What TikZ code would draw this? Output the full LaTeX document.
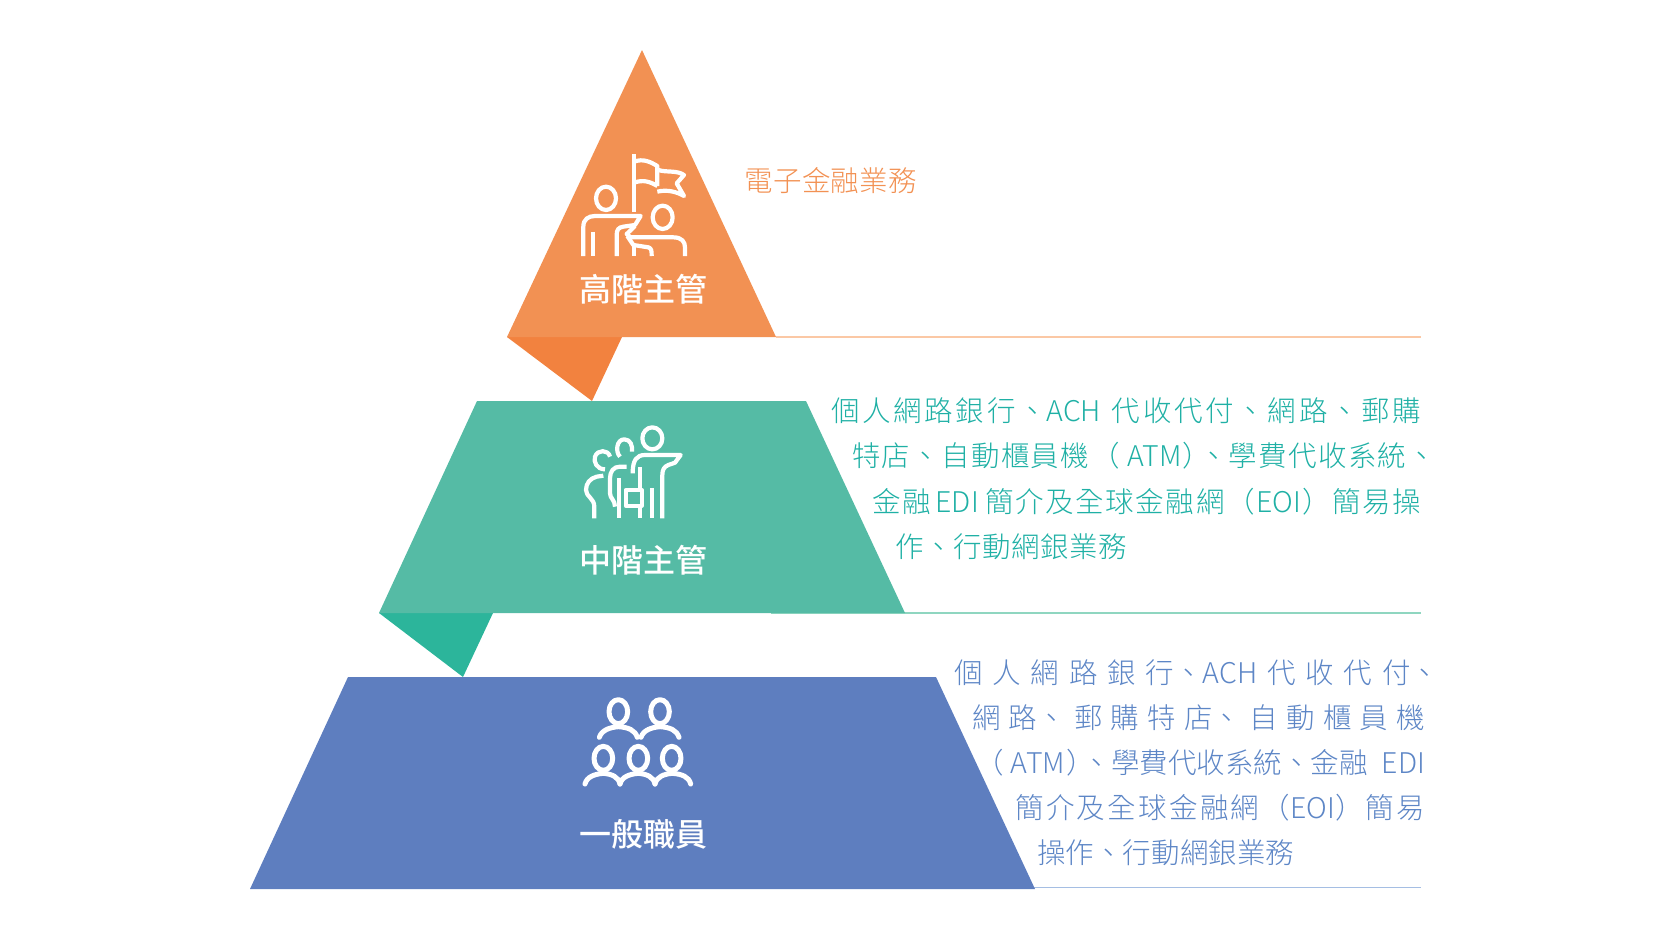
\documentclass[tikz,border=0pt]{standalone}
\usepackage{fontspec}
\newfontfamily\cjkl{Noto Sans CJK TC Light}
\newfontfamily\cjkm{Noto Sans CJK TC Medium}
\definecolor{orangeA}{HTML}{F29153}
\definecolor{orangeB}{HTML}{F2823F}
\definecolor{tealA}{HTML}{55BBA5}
\definecolor{tealB}{HTML}{2CB59B}
\definecolor{blueA}{HTML}{5E7EBF}
\definecolor{tealT}{HTML}{1FB0A5}
\definecolor{blueT}{HTML}{5D86C6}
\definecolor{ruleO}{HTML}{FBC8A5}
\definecolor{ruleT}{HTML}{8FD6C0}
\definecolor{ruleB}{HTML}{A5BEE3}
\newcommand{\fit}[2]{\hbox to #1pt{\def~{\hskip 0pt plus 1fil\relax}#2}}
\tikzset{
  x=1pt,y=-1pt,
  tier/.style={inner sep=0pt,font=\cjkm\fontsize{32}{32}\selectfont,text=white,anchor=base},
  desc/.style={inner sep=0pt,font=\cjkl\fontsize{28.5}{30}\selectfont,anchor=base west},
  icon/.style={draw=white,line width=4.2pt,line cap=butt,line join=round,fill=none},
  iconr/.style={draw=white,line width=5pt,line cap=round,line join=round,fill=none},
  rulel/.style={line width=1.5pt}
}
\begin{document}
\begin{tikzpicture}
\useasboundingbox (0,0) rectangle (1677,946);
% rules
\coordinate (r1a) at (776,337); \coordinate (r1b) at (1421,337);
\coordinate (r2a) at (771,613); \coordinate (r2b) at (1421,613);
\coordinate (r3a) at (1030,887.5); \coordinate (r3b) at (1421,887.5);
\draw[ruleO,rulel] (r1a) -- (r1b);
\draw[ruleT,rulel] (r2a) -- (r2b);
\draw[ruleB,rulel] (r3a) -- (r3b);
% folds
\fill[orangeB] (507,337) -- (622,337) -- (592,401) -- cycle;
\fill[tealB] (379,613) -- (493,613) -- (463,677) -- cycle;
% tiers
\fill[orangeA] (642,50) -- (776,337) -- (507,337) -- cycle;
\fill[tealA] (477,401) -- (806,401) -- (905,613) -- (379,613) -- cycle;
\fill[blueA] (348,677) -- (936,677) -- (1035,889) -- (250,889) -- cycle;
% icon 1
\begin{scope}[shift={(480,130)},scale=1/3]
\draw[icon] (462,72) -- (462,245);
\draw[icon] (462,95) .. controls (490,85) and (510,95) .. (532,108) -- (532,168);
\draw[icon] (462,158) .. controls (490,148) and (510,155) .. (532,168);
\draw[icon] (535,120) .. controls (560,128) and (590,120) .. (612,135) -- (590,160) -- (612,198) .. controls (590,185) and (560,178) .. (532,185);
\draw[icon] (378,205) ellipse (30 and 35);
\draw[icon] (310,378) -- (310,290) .. controls (310,268) and (325,258) .. (345,258) -- (482,258) -- (465,285) -- (430,290) .. controls (415,292) and (410,300) .. (410,315) -- (410,378);
\draw[icon] (338,305) -- (338,378);
\draw[icon] (548,262) ellipse (30 and 35);
\draw[icon] (465,288) -- (440,312) -- (452,322) -- (580,322) .. controls (605,322) and (615,335) .. (615,352) -- (615,378);
\draw[icon] (442,318) -- (460,345) -- (505,352) .. controls (515,354) and (515,365) .. (515,378);
\draw[icon] (462,348) -- (462,378);
\end{scope}
% icon 2
\begin{scope}[shift={(560,410)},scale=1/3]
\draw[icon] (277,85) ellipse (30 and 33);
\draw[icon] (218,190) .. controls (218,150) and (230,135) .. (255,135) -- (362,135) -- (345,158) -- (325,165) .. controls (312,170) and (307,180) .. (307,195) -- (307,325);
\draw[icon] (240,172) -- (240,240);
\draw[icon] (197,240) rectangle (245,287);
\draw[icon] (240,287) -- (240,325);
\draw[icon] (275,235) -- (275,325);
\draw[icon] (178,205) -- (178,325);
\draw[icon] (180,140) .. controls (165,125) and (170,88) .. (193,88) .. controls (212,88) and (218,108) .. (216,125);
\draw[icon] (200,170) -- (180,170) .. controls (160,170) and (150,185) .. (150,205) -- (150,250) .. controls (150,265) and (165,270) .. (165,290);
\draw[icon] (135,178) .. controls (110,178) and (100,155) .. (105,140) .. controls (112,118) and (145,118) .. (150,140);
\draw[icon] (130,197) -- (110,200) .. controls (90,205) and (78,220) .. (78,240) .. controls (78,260) and (103,265) .. (103,290) -- (103,325);
\end{scope}
% icon 3
\begin{scope}[shift={(560,680)},scale=1/3]
\foreach \hx/\hy in {175/95,300/95,130/235,235/235,335/235}{
  \draw[iconr] (\hx,\hy) ellipse (28 and 36);
}
\draw[iconr] (118,172) .. controls (125,150) and (150,142) .. (175,140) .. controls (205,142) and (225,150) .. (232,172);
\draw[iconr] (243,172) .. controls (250,150) and (275,142) .. (300,140) .. controls (330,142) and (350,150) .. (357,172);
\draw[iconr] (75,312) .. controls (80,290) and (105,282) .. (130,280) .. controls (155,282) and (175,290) .. (180,312);
\draw[iconr] (180,312) .. controls (185,290) and (210,282) .. (235,280) .. controls (260,282) and (280,290) .. (285,312);
\draw[iconr] (285,312) .. controls (290,290) and (312,282) .. (337,280) .. controls (365,282) and (387,290) .. (392,312);
\end{scope}
% tier labels
\node[tier] (t1) at (643,301) {高階主管};
\node[tier] (t2) at (643,572) {中階主管};
\node[tier] (t3) at (643,846) {一般職員};
% descriptions
\node[desc,text=orangeA] (d0) at (744,191) {\fit{173}{電~子~金~融~業~務}};
\node[desc,text=tealT] (a1) at (831,421) {\fit{590}{個~人~網~路~銀~行~、~\kern-3pt ACH~~~~代~收~代~付~、~網~路~、~郵~購}};
\node[desc,text=tealT] (a2) at (852,466) {\fit{584}{特~店~、~自~動~櫃~員~機~~（\kern7pt ATM\kern1pt）\kern-12pt、~學~費~代~收~系~統~、}};
\node[desc,text=tealT] (a3) at (872,512) {\fit{549}{金~融~~~EDI~~~~簡~介~及~全~球~金~融~網~（\kern2pt EOI\kern1pt）~簡~易~操}};
\node[desc,text=tealT] (a4) at (895,557) {\fit{232}{作~、~行~動~網~銀~業~務}};
\node[desc,text=blueT] (b1) at (954,683) {\fit{485}{個~人~網~路~銀~行、ACH~代~收~代~付、}};
\node[desc,text=blueT] (b2) at (972,728) {\fit{453}{網~路、~郵~購~特~店、~自~動~櫃~員~機}};
\node[desc,text=blueT] (b3) at (975,773) {\fit{450}{（\kern7pt ATM\kern1pt）\kern-12pt、學費代收系統、金融~EDI}};
\node[desc,text=blueT] (b4) at (1015,818) {\fit{410}{簡~介~及~全~球~金~融~網~（EOI）~簡~易}};
\node[desc,text=blueT] (b5) at (1037,863) {\fit{257}{操~作~、~行~動~網~銀~業~務}};
\end{tikzpicture}
\end{document}
